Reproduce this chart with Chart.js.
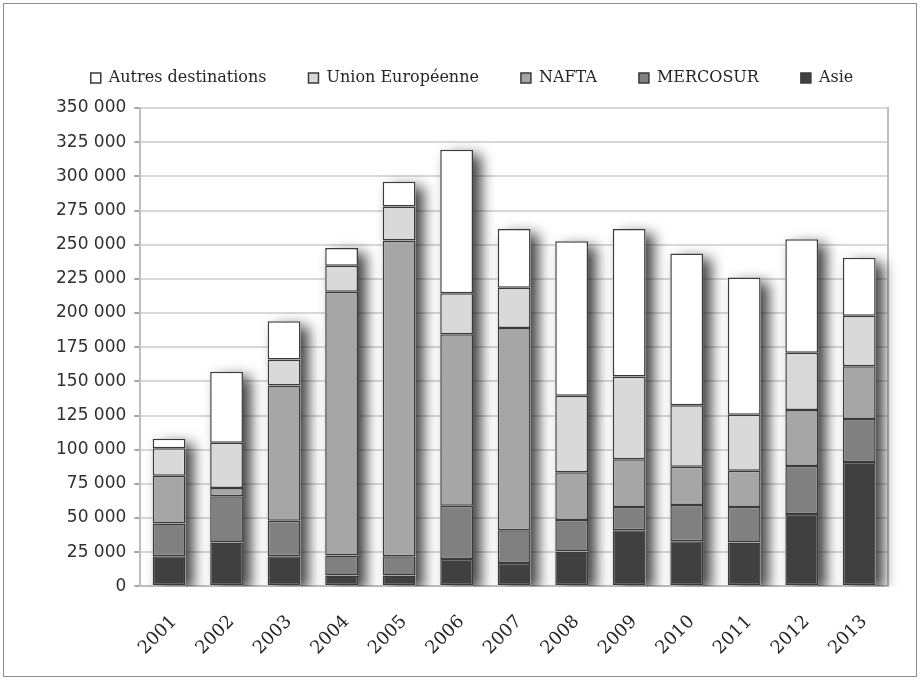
<!DOCTYPE html>
<html>
<head>
<meta charset="utf-8">
<script src="https://cdn.jsdelivr.net/npm/chart.js@4"></script>
<style>
  body { margin: 0; background: #fff; }
  #frame { position: absolute; left: 3px; top: 3px; width: 912px; height: 672px; border: 1px solid #8c8c8c; }
</style>
</head>
<body>
<div id="frame"><canvas id="chart" width="912" height="672"></canvas></div>
<script>
const years = ['2001','2002','2003','2004','2005','2006','2007','2008','2009','2010','2011','2012','2013'];
const asie     = [22000, 32000, 22000, 8000, 8000, 20000, 17000, 25500, 41000, 33000, 32000, 53000, 91000];
const mercosur = [24000, 34000, 26000, 14500, 14000, 39000, 24000, 23000, 17000, 26500, 26000, 35000, 31500];
const nafta    = [35000, 6000, 99000, 193000, 231000, 125500, 148000, 35000, 35000, 28000, 26500, 41000, 38500];
const ue       = [20000, 33000, 19000, 19000, 25000, 30000, 29500, 56000, 60500, 45000, 41000, 42000, 37000];
const autres   = [7000, 52000, 28000, 13000, 18000, 105000, 43000, 113000, 108000, 111000, 100500, 83000, 42500];
const yTicks = [0, 25000, 50000, 75000, 100000, 125000, 150000, 175000, 200000, 225000, 250000, 275000, 300000, 325000, 350000];

const serif = "'DejaVu Serif', 'Liberation Serif', serif";
const sans = "'DejaVu Sans', 'Liberation Sans', sans-serif";

function ds(label, data, color) {
  return {
    label: label,
    data: data,
    backgroundColor: color,
    borderColor: '#3a3a3a',
    borderWidth: 1.5,
    borderSkipped: false,
    barPercentage: 0.57,
    categoryPercentage: 1.0
  };
}

// soft shadow behind each whole stacked column
const shadowPlugin = {
  id: 'barShadow',
  beforeDatasetsDraw(chart) {
    const c = chart.ctx;
    const area = chart.chartArea;
    const bottom = chart.getDatasetMeta(0).data;
    const top = chart.getDatasetMeta(chart.data.datasets.length - 1).data;
    c.save();
    c.beginPath();
    c.rect(area.left, area.top - 10, area.right - area.left + 20, area.bottom - area.top + 10);
    c.clip();
    c.shadowColor = 'rgba(0,0,0,0.75)';
    c.shadowBlur = 14;
    c.shadowOffsetX = 8;
    c.shadowOffsetY = 5;
    c.fillStyle = '#ffffff';
    top.forEach(function(el, i) {
      const w = el.width;
      c.fillRect(el.x - w / 2, el.y, w, bottom[i].base - el.y);
    });
    c.restore();
  }
};

// a bit more room between legend and plot
const legendGap = {
  id: 'legendGap',
  beforeInit(chart) {
    const origFit = chart.legend.fit;
    chart.legend.fit = function() {
      origFit.bind(chart.legend)();
      this.height += 12;
    };
  }
};

new Chart(document.getElementById('chart').getContext('2d'), {
  type: 'bar',
  data: {
    labels: years,
    datasets: [
      ds('Asie', asie, '#404040'),
      ds('MERCOSUR', mercosur, '#808080'),
      ds('NAFTA', nafta, '#a6a6a6'),
      ds('Union Européenne', ue, '#d9d9d9'),
      ds('Autres destinations', autres, '#ffffff')
    ]
  },
  plugins: [shadowPlugin, legendGap],
  options: {
    responsive: false,
    animation: false,
    layout: { padding: { left: 44, right: 20, top: 24, bottom: 0 } },
    plugins: {
      tooltip: { enabled: false },
      legend: {
        position: 'top',
        reverse: true,
        labels: {
          font: { family: serif, size: 16 },
          color: '#262626',
          boxWidth: 10,
          boxHeight: 10,
          padding: 42
        }
      }
    },
    scales: {
      x: {
        stacked: true,
        grid: { display: false },
        border: { color: '#bfbfbf', width: 2 },
        ticks: {
          font: { family: serif, size: 18 },
          color: '#262626',
          minRotation: 45,
          maxRotation: 45,
          padding: 17,
          labelOffset: 5
        }
      },
      y: {
        stacked: true,
        min: 0,
        max: 350000,
        afterBuildTicks: function(axis) {
          axis.ticks = yTicks.map(function(v) { return { value: v }; });
        },
        grid: { color: '#d9d9d9', lineWidth: 2, tickColor: '#a6a6a6', tickLength: 6 },
        border: { color: '#bfbfbf', width: 2 },
        ticks: {
          font: { family: sans, size: 17 },
          color: '#303030',
          padding: 8,
          callback: function(value) {
            return String(value).replace(/\B(?=(\d{3})+(?!\d))/g, ' ');
          }
        }
      },
      yRight: {
        position: 'right',
        min: 0,
        max: 350000,
        grid: { display: false },
        border: { color: '#bfbfbf', width: 2 },
        ticks: { display: false }
      }
    }
  }
});
</script>
</body>
</html>
